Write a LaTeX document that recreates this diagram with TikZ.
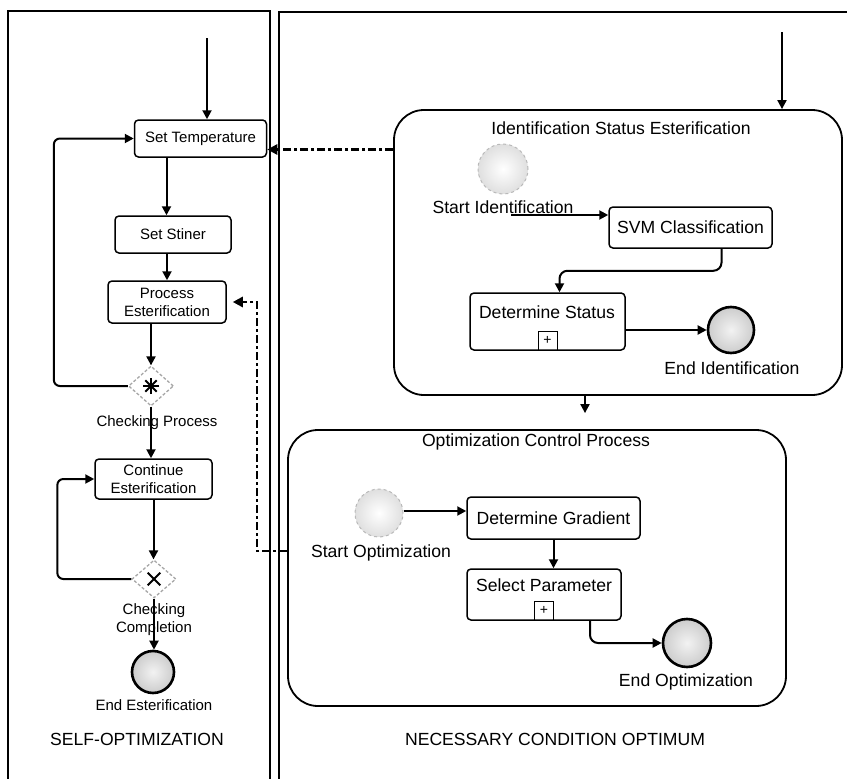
\documentclass[tikz,border=0pt]{standalone}
\usepackage{fontspec}
\setmainfont{Liberation Sans}
\usetikzlibrary{arrows.meta,shapes.geometric,calc}

\begin{document}
\begin{tikzpicture}[
        x=1pt, y=-1pt,
        every node/.style={inner sep=1pt},
        lefttxt/.style={font=\fontsize{15}{18}\selectfont, align=center},
        righttxt/.style={font=\fontsize{17.6}{20}\selectfont, align=center},
        task/.style={draw, rounded corners=4pt, line width=1.5pt},
        subproc/.style={draw, rounded corners=30pt, line width=1.8pt},
        startev/.style={circle, draw=gray!55, dashed, inner color=white, outer color=gray!25, line width=1pt, inner sep=0pt},
        endev/.style={circle, draw, line width=2.6pt, inner color=gray!10, outer color=gray!40, inner sep=0pt},
        gateway/.style={diamond, draw=gray!70, densely dashed, line width=1.3pt, inner sep=0pt},
        marker/.style={draw, line width=1pt, minimum size=19pt, inner sep=0pt, font=\fontsize{14}{14}\selectfont},
        flow/.style={-{Triangle[width=9pt,length=9pt]}, line width=2pt},
        msg/.style={-{Triangle[width=10pt,length=10pt]}, line width=2.5pt, dash pattern=on 8pt off 3pt on 3pt off 3pt}
    ]
        \clip (0,0) rectangle (847,779);

        % Pools
        \draw[line width=2pt] (8,11) rectangle (270,800);
        \draw[line width=2pt] (279,12) rectangle (870,800);
        \node (poolself) [righttxt] at (137,739) {SELF-OPTIMIZATION};
        \node (poolnco) [righttxt] at (555,739) {NECESSARY CONDITION OPTIMUM};

        % Self-optimization lane
        \coordinate (in1) at (207,38);
        \node (settemp) [task, lefttxt, minimum width=132pt, minimum height=37pt] at (200.5,138.5) {Set Temperature};
        \node (stiner) [task, lefttxt, minimum width=116pt, minimum height=37pt] at (173,234.5) {Set Stiner};
        \node (process) [task, lefttxt, minimum width=118pt, minimum height=42pt] at (167,302) {Process\\Esterification};
        \node (g1) [gateway, minimum width=45pt, minimum height=40pt] at (151,386) {};
        \node (g1lbl) [lefttxt] at (157,423) {Checking Process};
        \node (cont) [task, lefttxt, minimum width=117pt, minimum height=40pt] at (153.5,479) {Continue\\Esterification};
        \node (g2) [gateway, minimum width=44pt, minimum height=38pt] at (154,579) {};
        \node (g2lbl) [lefttxt] at (154,620) {Checking\\Completion};
        \node (endest) [endev, minimum size=42pt] at (153,672) {};
        \node (endestlbl) [lefttxt] at (154,705) {End Esterification};

        % Gateway symbols
        \foreach \a in {0,45,90,135}
            \draw[line width=2pt] ($(g1)+(\a:8)$) -- ($(g1)+(\a+180:8)$);
        \foreach \a in {45,135}
            \draw[line width=1.8pt] ($(g2)+(\a:9)$) -- ($(g2)+(\a+180:9)$);

        \draw[flow] (in1) -- (in1 |- settemp.north);
        \draw[flow] ([xshift=-34pt]settemp.south) -- ([xshift=-34pt]settemp.south |- stiner.north);
        \draw[flow] (process.north |- stiner.south) -- (process.north);
        \draw[flow] (g1.north |- process.south) -- (g1.north);
        \draw[flow, rounded corners=6pt] (g1.west) -- ++(-74,0) |- (settemp.west);
        \draw[flow] (g1.south) -- (g1.south |- cont.north);
        \draw[flow] (cont.south) -- (cont.south |- g2.north);
        \draw[flow, rounded corners=6pt] (g2.west) -- ++(-74,0) |- (cont.west);
        \draw[flow] (g2.south) -- (g2.south |- endest.north);

        % Identification subprocess
        \coordinate (in2) at (782,32);
        \node (ident) [subproc, minimum width=448pt, minimum height=285pt] at (618,252.5) {};
        \node (identlbl) [righttxt] at (621,128) {Identification Status Esterification};
        \node (startid) [startev, minimum size=50pt] at (503,169) {};
        \node (startidlbl) [righttxt] at (503,207) {Start Identification};
        \coordinate (sidl) at (511,215);
        \node (svm) [task, righttxt, minimum width=163pt, minimum height=41pt] at (690.5,227.5) {SVM Classification};
        \node (det) [task, minimum width=155pt, minimum height=57pt] at (547.5,321.5) {};
        \node (detlbl) [righttxt] at (547,312) {Determine Status};
        \node (detmk) [marker, anchor=south] at (det.south) {+};
        \node (endid) [endev, minimum size=46pt] at (731,330) {};
        \node (endidlbl) [righttxt] at (732,368) {End Identification};

        \draw[flow] (in2) -- (in2 |- ident.north);
        \draw[flow] (sidl) -- (sidl -| svm.west);
        \draw[flow, rounded corners=8pt] ([xshift=31pt]svm.south) -- ++(0,22) -| ([xshift=12pt]det.north);
        \draw[flow] (endid.west -| det.east) -- (endid.west);

        % Optimization subprocess
        \node (opt) [subproc, minimum width=498pt, minimum height=276pt] at (537,568) {};
        \node (optlbl) [righttxt] at (536,442) {Optimization Control Process};
        \node (startopt) [startev, minimum size=48pt] at (379,513) {};
        \node (startoptlbl) [righttxt] at (381,553) {Start Optimization};
        \node (grad) [task, righttxt, minimum width=173pt, minimum height=42pt] at (553.5,518) {Determine Gradient};
        \node (sel) [task, minimum width=154pt, minimum height=51pt] at (544,594.5) {};
        \node (sellbl) [righttxt] at (544,585) {Select Parameter};
        \node (selmk) [marker, anchor=south] at (sel.south) {+};
        \node (endopt) [endev, minimum size=48pt] at (687,643) {};
        \node (endoptlbl) [righttxt] at (686,682) {End Optimization};

        \draw[flow, shorten >=16pt] ([xshift=-33pt]ident.south) -- ([xshift=-33pt]ident.south |- opt.north);
        \draw[flow] ([yshift=2pt]startopt.east) -- ([yshift=2pt]startopt.east -| grad.west);
        \draw[flow] (grad.south) -- (grad.south |- sel.north);
        \draw[flow, rounded corners=8pt] ([xshift=46pt]sel.south) |- (endopt.west);

        % Message flows
        \coordinate (m1) at ([yshift=-11pt]settemp.east);
        \draw[msg] (m1 -| ident.west) -- (m1);
        \draw[msg, shorten >=6pt] ([yshift=17pt]opt.west) -- ++(-30,0) |- (process.east);
    \end{tikzpicture}
\end{document}
